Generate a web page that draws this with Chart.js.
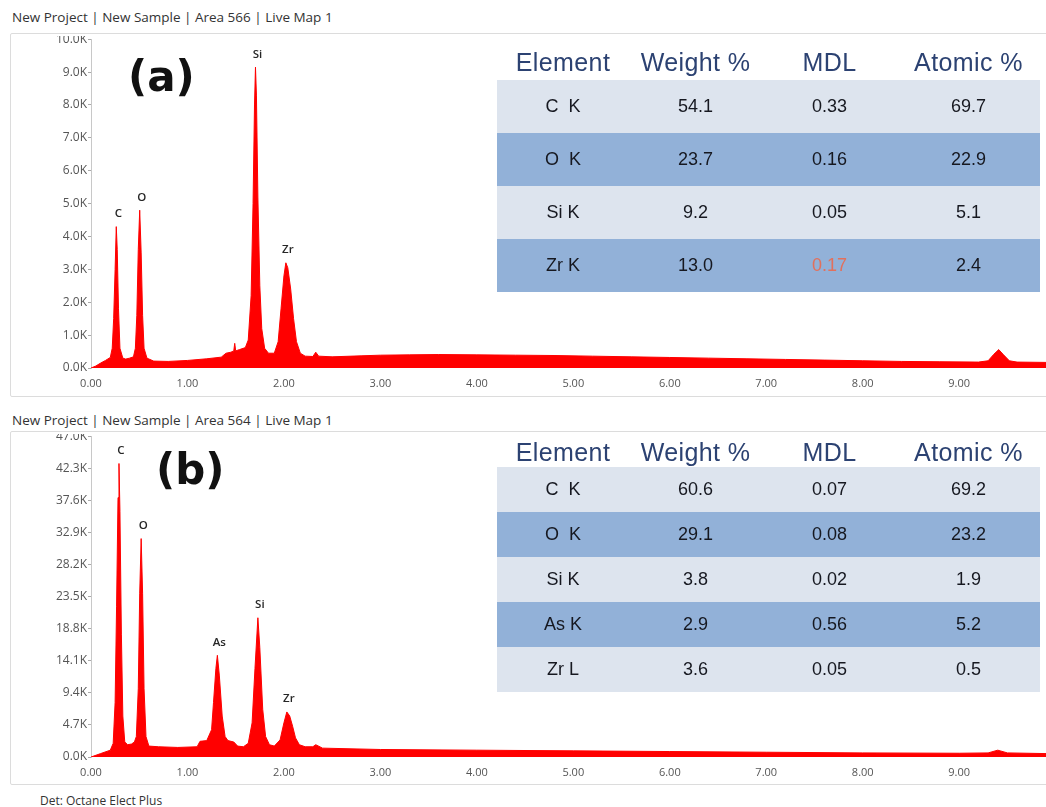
<!DOCTYPE html>
<html>
<head>
<meta charset="utf-8">
<script src="https://cdn.jsdelivr.net/npm/chart.js@4.4.0/dist/chart.umd.min.js"></script>
<style>
  html, body { margin: 0; padding: 0; background: #fff; }
  body { width: 1046px; height: 807px; position: relative; overflow: hidden; font-family: "Open Sans", sans-serif; }
  .caption { position: absolute; font-size: 13.5px; color: #333; white-space: nowrap; line-height: 16px; }
  .frame { position: absolute; left: 10px; width: 1040px; border: 1px solid #dcdcdc; border-radius: 2px; box-sizing: border-box; }
  .clip { position: absolute; left: 10px; width: 1036px; overflow: hidden; }
  .clip canvas { position: absolute; left: 0; }
  .tag { position: absolute; font-family: "DejaVu Sans", sans-serif; font-weight: bold; font-size: 42px; color: #111; line-height: 1; }
  table.comp { position: absolute; left: 497px; width: 543px; border-collapse: collapse; table-layout: fixed;
               font-family: "Liberation Sans", Arial, sans-serif; }
  table.comp th { font-weight: normal; color: #2c4272; font-size: 25px; letter-spacing: 0.4px; text-align: center; padding: 0; }
  table.comp td { color: #161820; font-size: 18px; text-align: center; padding: 0; white-space: pre; }
  table.comp tr.lt td { background: #dde4ee; }
  table.comp tr.dk td { background: #92b1d8; }
  table.comp td.flag { color: #e2705c; }
</style>
</head>
<body>

<div class="caption" style="left:12px; top:9px;">New Project | New Sample | Area 566 | Live Map 1</div>
<div class="frame" style="top:33px; height:364px;"></div>
<div class="clip" style="top:36px; height:360px;"><canvas id="specA" width="1036" height="365" style="top:-5px;"></canvas></div>
<div class="tag" style="left:128px; top:56px;">(a)</div>
<table class="comp" id="tabA" style="top:44px;"></table>

<div class="caption" style="left:12px; top:412px;">New Project | New Sample | Area 564 | Live Map 1</div>
<div class="frame" style="top:431px; height:354px;"></div>
<div class="clip" style="top:434px; height:350px;"><canvas id="specB" width="1036" height="357" style="top:-6px;"></canvas></div>
<div class="tag" style="left:156px; top:449px;">(b)</div>
<table class="comp" id="tabB" style="top:437px;"></table>

<div class="caption" style="left:40px; top:793px; font-size:12px;">Det: Octane Elect Plus</div>

<script>
// ---- Spectrum (a): energy in keV, counts ----
const energyA = [0.00, 0.05, 0.10, 0.15, 0.20, 0.22, 0.235, 0.25, 0.262, 0.272, 0.285, 0.30, 0.33, 0.36, 0.40, 0.44,
                 0.46, 0.475, 0.49, 0.505, 0.52, 0.535, 0.55, 0.58, 0.65, 0.80, 1.00, 1.20, 1.35, 1.40, 1.45, 1.48,
                 1.49, 1.50, 1.54, 1.60, 1.63, 1.66, 1.68, 1.695, 1.705, 1.715, 1.73, 1.75, 1.77, 1.80, 1.84, 1.90,
                 1.94, 1.97, 2.00, 2.02, 2.04, 2.07, 2.10, 2.13, 2.17, 2.22, 2.30, 2.33, 2.36, 2.50, 2.80, 3.00,
                 3.30, 3.60, 4.00, 4.40, 4.80, 5.20, 5.60, 6.00, 6.40, 6.80, 7.20, 7.60, 8.00, 8.40, 8.80, 9.20,
                 9.30, 9.36, 9.41, 9.46, 9.52, 9.60, 9.90];
const countsA = [0, 60, 150, 230, 320, 600, 1500, 3000, 4300, 3600, 1800, 600, 300, 270, 300, 340,
                 600, 1600, 3600, 4800, 3500, 1600, 600, 300, 210, 200, 230, 280, 330, 450, 480, 520,
                 750, 520, 560, 620, 850, 2200, 5000, 8000, 9150, 8300, 5200, 2500, 1200, 600, 450, 450,
                 800, 1800, 2800, 3200, 3050, 2400, 1500, 800, 450, 360, 350, 480, 360, 340, 370, 390,
                 400, 410, 400, 390, 380, 360, 340, 320, 300, 280, 260, 240, 220, 200, 190, 180,
                 220, 420, 560, 400, 220, 180, 170];
const peaksA = [['C', 0.262], ['O', 0.505], ['Si', 1.705], ['Zr', 2.02]];
const yTicksA = [0, 1000, 2000, 3000, 4000, 5000, 6000, 7000, 8000, 9000, 10000];

// ---- Spectrum (b) ----
const energyB = [0.00, 0.10, 0.20, 0.23, 0.25, 0.265, 0.28, 0.29, 0.30, 0.315, 0.33, 0.35, 0.38, 0.42, 0.45,
                 0.47, 0.49, 0.505, 0.52, 0.535, 0.55, 0.57, 0.60, 0.70, 0.90, 1.10, 1.13, 1.20, 1.25, 1.27,
                 1.295, 1.31, 1.33, 1.36, 1.39, 1.42, 1.48, 1.52, 1.58, 1.63, 1.67, 1.70, 1.73, 1.75, 1.78,
                 1.81, 1.85, 1.90, 1.96, 2.00, 2.03, 2.06, 2.09, 2.12, 2.16, 2.22, 2.30, 2.33, 2.40, 3.00,
                 4.00, 5.00, 6.00, 7.00, 8.00, 9.00, 9.30, 9.40, 9.50, 9.90];
const countsB = [0, 500, 1000, 2000, 8000, 22000, 38000, 43000, 36000, 18000, 6000, 2200, 1800, 1900, 2200,
                 3000, 10000, 24000, 32000, 24000, 10000, 3000, 1600, 1500, 1400, 1500, 2300, 2400, 4000, 8000,
                 13000, 14900, 12000, 6000, 3000, 2400, 2200, 1600, 1500, 2000, 5000, 13000, 20400, 16000, 7000,
                 3000, 1800, 1600, 2500, 5000, 6600, 6000, 4500, 2800, 1800, 1500, 1500, 1800, 1300, 1100,
                 1000, 900, 800, 700, 600, 550, 600, 1000, 600, 500];
const peaksB = [['C', 0.29], ['O', 0.52], ['As', 1.31], ['Si', 1.73], ['Zr', 2.03]];
const yTicksB = [0, 4700, 9400, 14100, 18800, 23500, 28200, 32900, 37600, 42300, 47000];

const xTicks = [0, 1, 2, 3, 4, 5, 6, 7, 8, 9];
const xMax = 9.9;

// ---- Quantification tables ----
const tableHead = ['Element', 'Weight %', 'MDL', 'Atomic %'];
const elementA = ['C  K', 'O  K', 'Si K', 'Zr K'];
const weightA  = ['54.1', '23.7', '9.2', '13.0'];
const mdlA     = ['0.33', '0.16', '0.05', '0.17'];
const atomicA  = ['69.7', '22.9', '5.1', '2.4'];
const mdlFlagA = [false, false, false, true];

const elementB = ['C  K', 'O  K', 'Si K', 'As K', 'Zr L'];
const weightB  = ['60.6', '29.1', '3.8', '2.9', '3.6'];
const mdlB     = ['0.07', '0.08', '0.02', '0.56', '0.05'];
const atomicB  = ['69.2', '23.2', '1.9', '5.2', '0.5'];
const mdlFlagB = [false, false, false, false, false];

const colWidths = [132, 133, 135, 143];

function buildTable(id, headH, rowH, el, wt, mdl, at, flags) {
  const t = document.getElementById(id);
  let html = '<colgroup>' + colWidths.map(w => `<col style="width:${w}px">`).join('') + '</colgroup>';
  html += `<tr style="height:${headH}px">` + tableHead.map(h => `<th>${h}</th>`).join('') + '</tr>';
  for (let i = 0; i < el.length; i++) {
    html += `<tr class="${i % 2 ? 'dk' : 'lt'}" style="height:${rowH}px">` +
            `<td>${el[i]}</td><td>${wt[i]}</td><td class="${flags[i] ? 'flag' : ''}">${mdl[i]}</td><td>${at[i]}</td></tr>`;
  }
  t.innerHTML = html;
}
buildTable('tabA', 36, 53, elementA, weightA, mdlA, atomicA, mdlFlagA);
buildTable('tabB', 30, 45, elementB, weightB, mdlB, atomicB, mdlFlagB);

// Element labels above the peaks, positioned from the spectrum values
const peakLabels = {
  id: 'peakLabels',
  afterDatasetsDraw(chart, args, opts) {
    const { ctx, scales: { x, y } } = chart;
    ctx.save();
    ctx.font = '600 11.5px "Open Sans", sans-serif';
    ctx.fillStyle = '#262626';
    ctx.textAlign = 'center';
    ctx.textBaseline = 'bottom';
    opts.peaks.forEach(([name, e]) => {
      const i = opts.energies.indexOf(e);
      ctx.fillText(name, x.getPixelForValue(e) + 2, y.getPixelForValue(opts.counts[i]) - 7);
    });
    ctx.restore();
  }
};

function spectrum(id, energies, counts, yTicks, peaks) {
  return new Chart(document.getElementById(id), {
    type: 'line',
    data: {
      datasets: [{
        data: energies.map((e, i) => ({ x: e, y: counts[i] })),
        borderColor: '#ff0000',
        backgroundColor: '#ff0000',
        borderWidth: 1,
        pointRadius: 0,
        fill: 'origin',
        tension: 0
      }]
    },
    options: {
      responsive: false,
      animation: false,
      layout: { padding: 0 },
      plugins: {
        legend: { display: false },
        tooltip: { enabled: false },
        peakLabels: { peaks, energies, counts }
      },
      scales: {
        x: {
          type: 'linear', min: 0, max: xMax,
          afterBuildTicks: s => { s.ticks = xTicks.map(v => ({ value: v })); },
          afterFit: s => { s.height = 28; },
          ticks: { callback: v => v.toFixed(2), font: { family: 'Open Sans', size: 11 }, color: '#555',
                   maxRotation: 0, autoSkip: false, padding: 1 },
          grid: { display: false },
          border: { display: false }
        },
        y: {
          type: 'linear', min: 0, max: yTicks[yTicks.length - 1],
          afterBuildTicks: s => { s.ticks = yTicks.map(v => ({ value: v })); },
          afterFit: s => { s.width = 81; },
          ticks: { callback: v => (v / 1000).toFixed(1) + 'K', font: { family: 'Open Sans', size: 12 }, color: '#555', padding: 1 },
          grid: { drawOnChartArea: false, tickLength: 3, color: '#aaa' },
          border: { color: '#c8c8c8' }
        }
      }
    },
    plugins: [peakLabels]
  });
}

spectrum('specA', energyA, countsA, yTicksA, peaksA);
spectrum('specB', energyB, countsB, yTicksB, peaksB);
</script>
</body>
</html>
